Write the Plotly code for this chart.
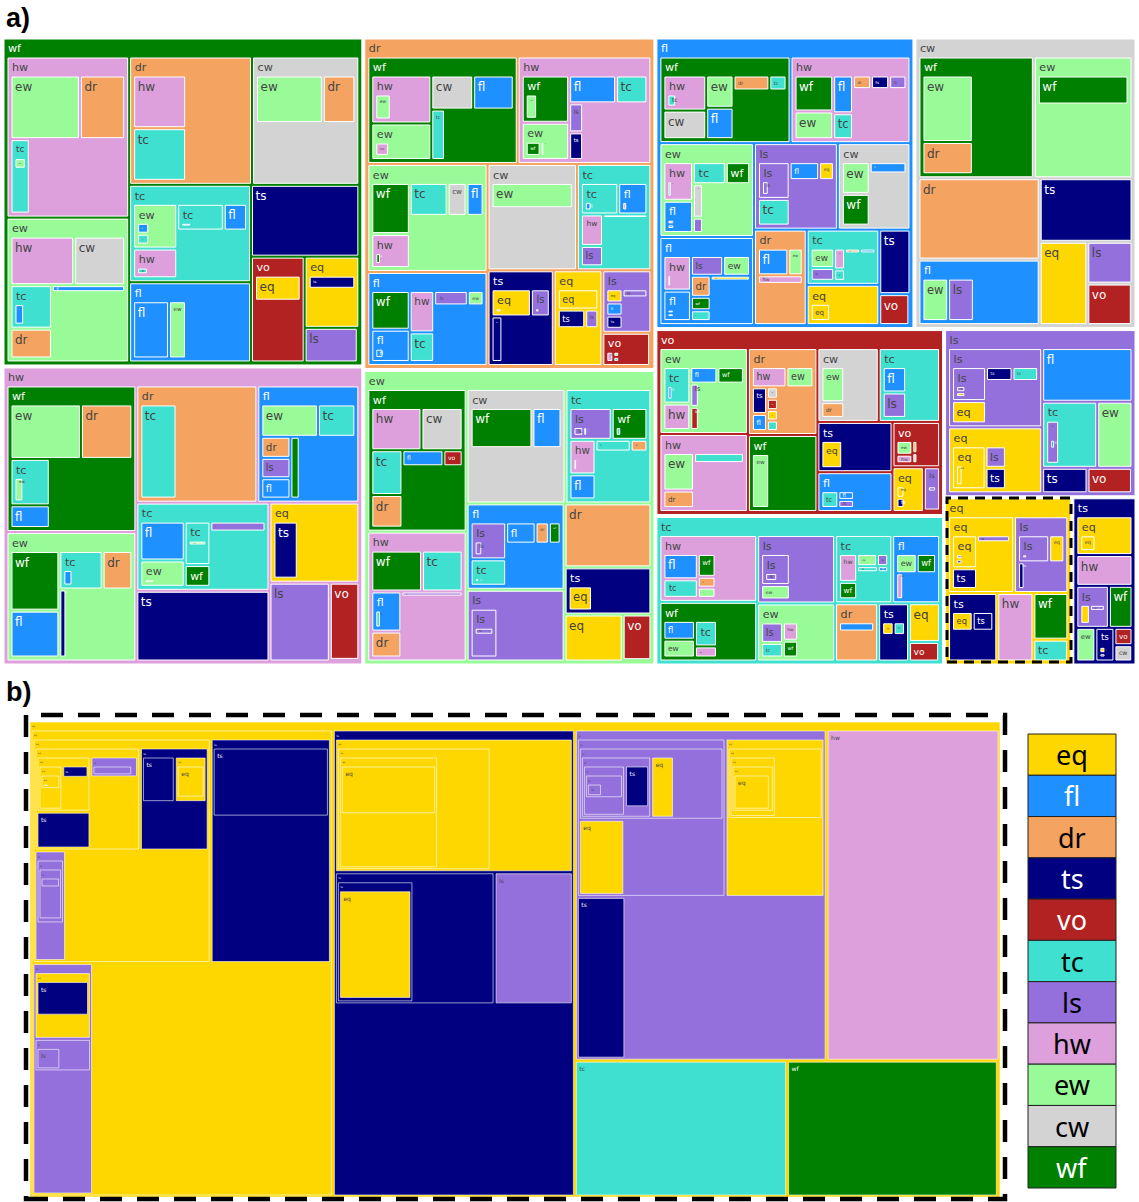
import plotly.graph_objects as go

# ---------------- colours per hazard ----------------
COLORS = {
    "eq": "#FFD700", "fl": "#1E90FF", "dr": "#F4A460", "ts": "#000080",
    "vo": "#B22222", "tc": "#40E0D0", "ls": "#9370DB", "hw": "#DDA0DD",
    "ew": "#98FB98", "cw": "#D3D3D3", "wf": "#008000",
}
LEGEND_LABELS = ["eq", "fl", "dr", "ts", "vo", "tc", "ls", "hw", "ew", "cw", "wf"]

# ---------------- panel a: top level ----------------
TOP_LABELS = ["wf", "hw", "dr", "ew", "fl", "cw", "vo", "tc", "ls", "eq", "ts"]
TOP_VALUES = [11, 10, 9, 8, 7, 6, 5, 4, 3, 2, 1]

# (path below the top node, relative weight, empty share left inside the node)
WF = [("hw", 188, 69), ("hw/ew", 43), ("hw/dr", 28), ("hw/tc", 14, 5.4), ("hw/tc/ew", 1.4),
      ("ew", 169, 47), ("ew/hw", 30), ("ew/cw", 24), ("ew/tc", 17.5, 4.7), ("ew/tc/fl", 1.9),
      ("ew/fl", 5), ("ew/dr", 12),
      ("dr", 150, 63), ("dr/hw", 27), ("dr/tc", 27),
      ("cw", 131, 56), ("cw/ew", 31), ("cw/dr", 15),
      ("tc", 113, 32), ("tc/ew", 19, 5.2), ("tc/ew/fl", 1.3), ("tc/ew/tc", 1.3),
      ("tc/tc", 12, 2), ("tc/tc/tc", 0.7), ("tc/fl", 6), ("tc/hw", 12.6, 1.3), ("tc/hw/tc", 0.55),
      ("fl", 93, 34), ("fl/fl", 20), ("fl/ew", 9.5),
      ("ts", 74),
      ("vo", 54, 26.5), ("vo/eq", 11.5),
      ("eq", 37, 16), ("eq/ts", 6),
      ("ls", 17.5)]

DR = [("wf", 153, 30), ("wf/hw", 25, 7.6), ("wf/hw/ew", 3.2), ("wf/cw", 12.4), ("wf/fl", 12),
      ("wf/ew", 19, 4.5), ("wf/ew/hw", 1.6), ("wf/tc", 6),
      ("hw", 136, 35), ("hw/wf", 21.6, 6.4), ("hw/wf/ew", 2.6), ("hw/fl", 12.6), ("hw/tc", 8.4),
      ("hw/ew", 17, 2.8), ("hw/ew/wf", 2), ("hw/ew/ls", 0.5), ("hw/ls", 3.9), ("hw/ts", 3.7),
      ("ew", 123, 37), ("ew/wf", 19), ("ew/hw", 12.6, 2.2), ("ew/hw/wf", 0.5), ("ew/cw", 6),
      ("ew/tc", 12), ("ew/fl", 5.4),
      ("cw", 90, 46), ("cw/ew", 20),
      ("tc", 75, 21), ("tc/tc", 11.5, 2.4), ("tc/tc/fl", 0.7), ("tc/fl", 9, 1.6), ("tc/fl/hw", 0.5),
      ("tc/hw", 6.8, 1.2), ("tc/hw/fl", 0.3), ("tc/ls", 4.4), ("tc/eq", 1.5),
      ("fl", 107, 27), ("fl/wf", 14.4), ("fl/hw", 9.8), ("fl/tc", 7), ("fl/fl", 12, 1.9),
      ("fl/fl/fl", 0.7), ("fl/ls", 4.7, 1.2), ("fl/ls/ls", 0.3), ("fl/ew", 2.2),
      ("ts", 60, 21), ("ts/eq", 10.4, 1.6), ("ts/eq/fl", 0.4), ("ts/ls", 5, 0.4), ("ts/ls/ls", 0.3),
      ("ts/ts", 4.8),
      ("eq", 44, 12.8), ("eq/eq", 7.7), ("eq/ts", 4.8), ("eq/ls", 2.3),
      ("ls", 29, 7.7), ("ls/eq", 2.1), ("ls/fl", 2.1), ("ls/ls", 2), ("ls/ts", 2.1),
      ("vo", 15, 2.7), ("vo/hw", 0.7), ("vo/ew", 0.3), ("vo/tc", 0.3)]

FL = [("wf", 105, 24), ("wf/hw", 14, 2.7), ("wf/hw/tc", 0.9), ("wf/ew", 8.2), ("wf/dr", 5),
      ("wf/tc", 2.4), ("wf/cw", 11.4), ("wf/fl", 8.0),
      ("hw", 96, 25), ("hw/wf", 13), ("hw/fl", 7), ("hw/dr", 2.3), ("hw/ls", 2.2), ("hw/ts", 2.3),
      ("hw/ew", 10), ("hw/tc", 4.8),
      ("ew", 82, 24), ("ew/hw", 12, 3), ("ew/hw/tc", 0.75), ("ew/tc", 7.6, 0.9), ("ew/tc/fl", 0.25),
      ("ew/wf", 5.6), ("ew/fl", 10, 1.5), ("ew/fl/dr", 0.35), ("ew/fl/fl", 0.35), ("ew/cw", 3.5),
      ("ew/ls", 1.6),
      ("ls", 67, 19), ("ls/ls", 11, 2), ("ls/ls/ls", 0.8), ("ls/fl", 5), ("ls/eq", 2.5), ("ls/tc", 8),
      ("cw", 58, 18), ("cw/ew", 8.3), ("cw/fl", 3.9), ("cw/wf", 8.3),
      ("fl", 77, 15), ("fl/hw", 9, 1.5), ("fl/hw/fl", 0.35), ("fl/ls", 6), ("fl/ew", 5),
      ("fl/fl", 7.9, 0.6), ("fl/fl/ew", 0.15), ("fl/fl/ls", 0.15), ("fl/dr", 3.9), ("fl/eq", 1.8),
      ("fl/tc", 2), ("fl/wf", 2.5),
      ("dr", 46.5, 16), ("dr/fl", 7.8), ("dr/ew", 3.7), ("dr/hw", 3.7),
      ("tc", 37, 8), ("tc/ew", 4.4), ("tc/hw", 2.2), ("tc/dr", 0.7), ("tc/fl", 0.7), ("tc/ls", 2.9),
      ("tc/tc", 1.2),
      ("eq", 27, 7.7), ("eq/eq", 3.3),
      ("ts", 18.6), ("vo", 8.6)]

CW = [("wf", 131, 53), ("wf/ew", 31.6), ("wf/dr", 15.3),
      ("ew", 112, 60), ("ew/wf", 25),
      ("dr", 92), ("ts", 55),
      ("fl", 74, 25), ("fl/ew", 10.4), ("fl/ls", 10.4),
      ("eq", 37), ("ls", 17.6), ("vo", 17.2)]

HW = [("wf", 180, 55), ("wf/ew", 37), ("wf/dr", 27), ("wf/tc", 17.6, 4.8), ("wf/tc/ew", 1.9),
      ("wf/fl", 8.6),
      ("ew", 159, 43), ("ew/wf", 28), ("ew/tc", 16, 4.6), ("ew/tc/fl", 1.6), ("ew/dr", 11),
      ("ew/fl", 22), ("ew/ts", 4.6, 1), ("ew/ts/ew", 0.2),
      ("dr", 134, 70), ("dr/tc", 33),
      ("fl", 113, 33), ("fl/ew", 17.6), ("fl/tc", 11.6), ("fl/dr", 5.9), ("fl/ls", 5.7),
      ("fl/fl", 5.7), ("fl/wf", 5.5),
      ("tc", 111, 30), ("tc/fl", 17), ("tc/tc", 11, 2.9), ("tc/tc/ew", 0.9), ("tc/wf", 5.5, 1),
      ("tc/wf/ew", 0.3), ("tc/ew", 11.5, 2), ("tc/ew/ew", 0.8), ("tc/ls", 5.4),
      ("ts", 89),
      ("eq", 68, 32), ("eq/ts", 13.5),
      ("ls", 45), ("vo", 21.5)]

EW = [("wf", 134, 36), ("wf/hw", 20.7), ("wf/cw", 17), ("wf/tc", 13.6), ("wf/fl", 6.4),
      ("wf/vo", 3), ("wf/dr", 9.9),
      ("cw", 107, 45), ("cw/wf", 24), ("cw/fl", 11.3),
      ("tc", 93, 24), ("tc/ls", 13, 2.1), ("tc/ls/ls", 1), ("tc/ls/fl", 0.4),
      ("tc/wf", 11, 2.2), ("tc/wf/tc", 0.55), ("tc/hw", 8.7, 1.2), ("tc/hw/fl", 0.3),
      ("tc/tc", 4), ("tc/dr", 1.9), ("tc/fl", 6.3),
      ("hw", 122, 36), ("hw/wf", 20), ("hw/tc", 16), ("hw/fl", 11.6, 2.3), ("hw/fl/tc", 0.8),
      ("hw/ls", 3), ("hw/dr", 7.5),
      ("fl", 80, 22), ("fl/ls", 12.6, 2.6), ("fl/ls/ls", 1), ("fl/fl", 6), ("fl/dr", 2.7),
      ("fl/tc", 9, 1.2), ("fl/tc/hw", 0.3), ("fl/tc/tc", 0.2), ("fl/wf", 2.4),
      ("dr", 52.5),
      ("ls", 66.5, 30), ("ls/ls", 12.7, 3.5), ("ls/ls/ls", 1.3),
      ("ts", 38.7, 13), ("ts/eq", 5.5),
      ("eq", 25.8), ("vo", 12.4)]

VO = [("ew", 70.5, 20), ("ew/tc", 9.4, 1.6), ("ew/tc/fl", 0.6), ("ew/fl", 4.3), ("ew/wf", 4.2),
      ("ew/hw", 6.8), ("ew/ls", 1.9), ("ew/vo", 1.9),
      ("hw", 64, 21), ("hw/ew", 10.8), ("hw/tc", 4.7), ("hw/dr", 5),
      ("dr", 56, 15), ("dr/hw", 6.8), ("dr/ew", 5.3), ("dr/ts", 3.9), ("dr/fl", 2.5),
      ("dr/cw", 1.2), ("dr/eq", 1.1), ("dr/tc", 1.1), ("dr/vo", 1.2),
      ("wf", 49.6, 23), ("wf/ew", 9),
      ("cw", 42, 15), ("cw/ew", 7.8), ("cw/dr", 3.5),
      ("tc", 42, 14.6), ("tc/fl", 5.7), ("tc/ls", 5.7),
      ("ts", 35, 12), ("ts/eq", 5.4),
      ("fl", 27.7, 5.5), ("fl/tc", 2.7), ("fl/fl", 1.3), ("fl/ls", 1.2),
      ("vo", 20, 4), ("vo/ew", 2.1), ("vo/hw", 1.3), ("vo/dr", 0.6), ("vo/cw", 0.5),
      ("eq", 13, 3.3), ("eq/eq", 0.9), ("eq/ts", 0.8),
      ("ls", 6.5, 1.4), ("ls/ls", 0.5)]

TC = [("hw", 60, 15.5), ("hw/fl", 8.2), ("hw/tc", 6, 1.5), ("hw/tc/ew", 0.3), ("hw/dr", 1.8),
      ("hw/ew", 1.7), ("hw/wf", 3.8),
      ("wf", 53.5, 12.5), ("wf/ew", 5.3), ("wf/tc", 5.3, 1.5), ("wf/tc/ew", 0.3), ("wf/hw", 2.3),
      ("wf/fl", 5.6),
      ("ls", 49, 17.7), ("ls/ls", 8.4, 1), ("ls/ls/ls", 1.4), ("ls/ew", 3.9),
      ("ew", 41.5, 10), ("ew/ls", 4.2), ("ew/tc", 3), ("ew/dr", 0.9), ("ew/hw", 2.6), ("ew/wf", 2.4),
      ("tc", 35.8, 8), ("tc/hw", 4.8), ("tc/ew", 2.3), ("tc/ls", 1.3), ("tc/wf", 3), ("tc/tc", 1.2),
      ("tc/fl", 0.6),
      ("fl", 30, 8), ("fl/ew", 3.7), ("fl/wf", 3.5), ("fl/hw", 1.7),
      ("dr", 23, 9), ("dr/fl", 3.2),
      ("ts", 16.5, 5), ("ts/eq", 1.4), ("ts/tc", 1.4),
      ("eq", 11), ("vo", 5.4)]

LS = [("ls", 68.5, 21), ("ls/ls", 11, 1.6), ("ls/ls/ls", 0.5), ("ls/ls/eq", 0.4), ("ls/tc", 3.4),
      ("ls/ts", 3.5), ("ls/eq", 7.2),
      ("fl", 44.5),
      ("eq", 57, 13), ("eq/eq", 13.5, 3.5), ("eq/eq/eq", 1.2), ("eq/ls", 4.1), ("eq/ts", 4.1),
      ("tc", 33.4, 14), ("tc/ls", 5.3, 0.5), ("tc/ls/fl", 0.4),
      ("ew", 21.4), ("ts", 10.6), ("vo", 10.4)]

EQ = [("eq", 45, 14), ("eq/eq", 7.5, 0.8), ("eq/eq/ls", 0.25), ("eq/eq/ts", 0.25), ("eq/ls", 2.1),
      ("eq/ts", 4.7),
      ("ls", 37, 9.8), ("ls/ls", 7.8, 1), ("ls/ls/ls", 0.3), ("ls/eq", 3.8), ("ls/ts", 1.6),
      ("ts", 30, 10), ("ts/eq", 3.5), ("ts/ts", 3.5),
      ("hw", 22), ("wf", 14.5), ("tc", 6.7)]

TS = [("eq", 18, 3.7), ("eq/eq", 1.7), ("hw", 14.3), ("ls", 11.3, 1.5), ("ls/eq", 1.4),
      ("ls/ls", 0.7), ("wf", 8.2), ("ew", 5.3), ("ts", 5.3, 0.4), ("ts/eq", 0.3), ("ts/ts", 0.2),
      ("cw", 2.4), ("vo", 2.6)]

SUBTREES_A = {"wf": WF, "hw": HW, "dr": DR, "ew": EW, "fl": FL, "cw": CW,
              "vo": VO, "tc": TC, "ls": LS, "eq": EQ, "ts": TS}

# ---------------- panel b: the eq sequence tree ----------------
B_ROOT = "eq"
B_NODES = [("eq", 140.6, 55), ("eq/eq", 40, 15.8), ("eq/eq/eq", 10.9, 3.4),
           ("eq/eq/eq/eq", 3, 0.83), ("eq/eq/eq/eq/eq", 1.05, 0.37), ("eq/eq/eq/eq/eq/eq", 0.29, 0.035),
           ("eq/eq/eq/eq/eq/eq/eq", 0.025), ("eq/eq/eq/eq/ts", 0.32, 0.02), ("eq/eq/eq/eq/ts/eq", 0.04),
           ("eq/eq/eq/ls", 1, 0.04), ("eq/eq/eq/ls/ls", 0.43), ("eq/eq/eq/ts", 2),
           ("eq/eq/ts", 7.1, 3), ("eq/eq/ts/eq", 1.46, 0.07), ("eq/eq/ts/eq/eq", 0.9), ("eq/eq/ts/ts", 1.5),
           ("eq/eq/ls", 3.5, 1), ("eq/eq/ls/ls", 1.8, 0.05), ("eq/eq/ls/ls/ls", 1.25, 0.6),
           ("eq/eq/ls/ls/ls/ls", 0.2),
           ("eq/ts", 27, 16.7), ("eq/ts/ts", 8),
           ("eq/ls", 14, 6.7), ("eq/ls/eq", 3.7, 1.1), ("eq/ls/eq/ts", 1.8), ("eq/ls/ls", 1.8, 0.6),
           ("eq/ls/ls/ls", 0.5),
           ("ts", 112.5, 45), ("ts/eq", 31.7, 9.8), ("ts/eq/eq", 18.8, 5.6), ("ts/eq/eq/eq", 11, 4.9),
           ("ts/eq/eq/eq/eq", 4.6), ("ts/ts", 21, 9.5), ("ts/ts/ts", 9.2, 0.1), ("ts/ts/ts/eq", 7.8),
           ("ts/ls", 10.3),
           ("ls", 83, 32), ("ls/ls", 23.4, 7.4), ("ls/ls/ls", 10.4, 2.9), ("ls/ls/ls/ls", 4.3, 0.2),
           ("ls/ls/ls/ls/ls", 2.1, 0.6), ("ls/ls/ls/ls/ls/ls", 0.92, 0.3), ("ls/ls/ls/ls/ls/ls/ls", 0.24),
           ("ls/ls/ls/ls/ts", 1), ("ls/ls/ls/eq", 1.4), ("ls/ls/eq", 3.4),
           ("ls/eq", 15.6, 7.2), ("ls/eq/eq", 6.8, 2.7), ("ls/eq/eq/eq", 2.8, 0.14),
           ("ls/eq/eq/eq/eq", 1.96, 0.07), ("ls/eq/eq/eq/eq/eq", 1.3), ("ls/ts", 7.8),
           ("hw", 57), ("tc", 28.7), ("wf", 28.5)]


def build(entries, root_values):
    """entries: list of (full_path, weight[, empty]); root_values: {root: value}"""
    weight, empty, kids = {}, {}, {}
    for e in entries:
        p = e[0]
        weight[p] = e[1]
        empty[p] = e[2] if len(e) > 2 else 0.0
        par = p.rsplit("/", 1)[0] if "/" in p else ""
        kids.setdefault(par, []).append(p)
    ids, labels, parents, values = [], [], [], []

    def assign(node, val):
        ids.append(node)
        labels.append(node.rsplit("/", 1)[-1])
        parents.append(node.rsplit("/", 1)[0] if "/" in node else "")
        values.append(val)
        ch = kids.get(node, [])
        if ch:
            tot = (sum(weight[c] for c in ch) + empty.get(node, 0.0)) * 1.0005
            for c in ch:
                assign(c, val * weight[c] / tot)

    for r, v in root_values.items():
        assign(r, v)
    return ids, labels, parents, values


# panel a entries
entries_a = []
for lab, val in zip(TOP_LABELS, TOP_VALUES):
    entries_a.append((lab, val))
    for e in SUBTREES_A[lab]:
        entries_a.append((lab + "/" + e[0],) + tuple(e[1:]))
ids_a, labels_a, parents_a, values_a = build(
    entries_a, {lab: val * 1000.0 for lab, val in zip(TOP_LABELS, TOP_VALUES)})

# panel b entries
entries_b = [(B_ROOT, 1.0)] + [(B_ROOT + "/" + e[0],) + tuple(e[1:]) for e in B_NODES]
ids_b, labels_b, parents_b, values_b = build(entries_b, {B_ROOT: 1000.0})

W, H = 1139, 1202


def fx(x):
    return x / W


def fy(y):
    return 1 - y / H


fig = go.Figure()
fig.add_trace(go.Treemap(
    ids=ids_a, labels=labels_a, parents=parents_a, values=values_a,
    branchvalues="total", sort=True,
    marker=dict(colors=[COLORS[l] for l in labels_a], line=dict(color="white", width=1),
                pad=dict(t=19, l=4, r=4, b=4)),
    textinfo="label", textfont=dict(family="DejaVu Sans", size=12),
    pathbar=dict(visible=False), hoverinfo="skip",
    domain=dict(x=[0, 1], y=[fy(668), fy(20)]),
))
fig.add_trace(go.Treemap(
    ids=ids_b, labels=labels_b, parents=parents_b, values=values_b,
    branchvalues="total", sort=True,
    marker=dict(colors=[COLORS[l] for l in labels_b], line=dict(color="white", width=0.6),
                pad=dict(t=9, l=2, r=2, b=2)),
    textinfo="label", textfont=dict(family="DejaVu Sans", size=6),
    pathbar=dict(visible=False), hoverinfo="skip",
    domain=dict(x=[fx(30), fx(1000)], y=[fy(1197), fy(722)]),
))

shapes = []
annotations = []
# dashed highlight around the eq block of panel a
shapes.append(dict(type="rect", xref="paper", yref="paper", x0=fx(947), x1=fx(1071), y0=fy(662), y1=fy(498),
                   line=dict(color="black", width=3, dash="10px,7px")))
# dashed frame of panel b
shapes.append(dict(type="rect", xref="paper", yref="paper", x0=fx(26), x1=fx(1005), y0=fy(1199), y1=fy(715),
                   line=dict(color="black", width=4.5, dash="22px,15px")))
# legend boxes
row_h = (1188 - 734) / len(LEGEND_LABELS)
for i, lab in enumerate(LEGEND_LABELS):
    y0 = 734 + i * row_h
    shapes.append(dict(type="rect", xref="paper", yref="paper", x0=fx(1028), x1=fx(1116),
                       y0=fy(y0 + row_h), y1=fy(y0), fillcolor=COLORS[lab],
                       line=dict(color="#222", width=1)))
    dark = lab in ("fl", "ts", "vo", "wf")
    annotations.append(dict(x=fx(1072), y=fy(y0 + row_h / 2), xref="paper", yref="paper",
                            text=lab, showarrow=False, xanchor="center", yanchor="middle",
                            font=dict(family="Noto Sans", size=27, color="white" if dark else "black")))
annotations.append(dict(x=fx(4), y=fy(18), xref="paper", yref="paper", text="<b>a)</b>", showarrow=False,
                        xanchor="left", yanchor="middle", font=dict(family="Liberation Sans", size=27, color="black")))
annotations.append(dict(x=fx(4), y=fy(692), xref="paper", yref="paper", text="<b>b)</b>", showarrow=False,
                        xanchor="left", yanchor="middle", font=dict(family="Liberation Sans", size=27, color="black")))

fig.update_layout(width=W, height=H, margin=dict(l=0, r=0, t=0, b=0), paper_bgcolor="white",
                  plot_bgcolor="white", shapes=shapes, annotations=annotations, showlegend=False)
fig.write_html("out.html")
